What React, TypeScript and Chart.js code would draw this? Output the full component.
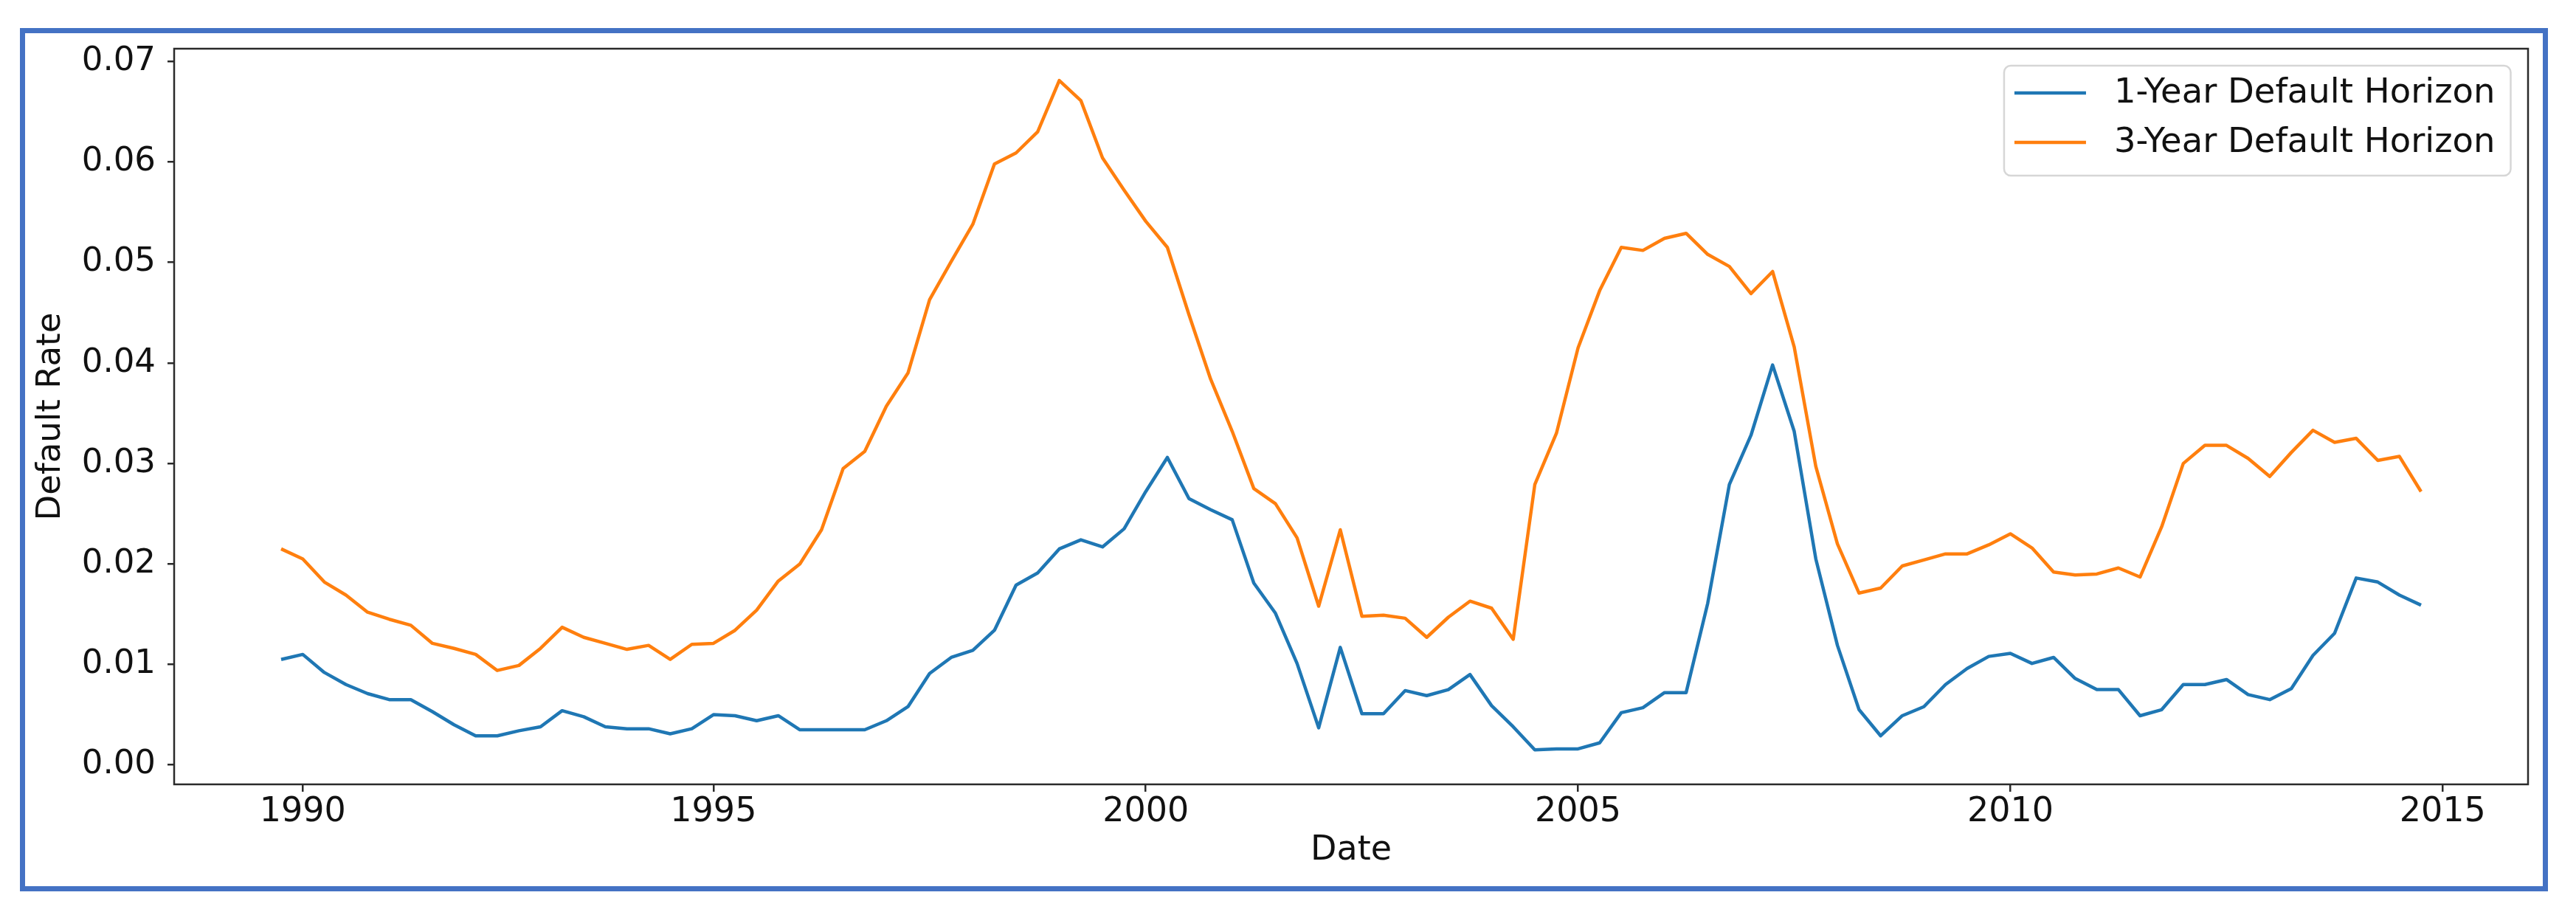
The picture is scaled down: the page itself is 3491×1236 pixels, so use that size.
import React, { useEffect, useRef } from 'react';
import { Chart, registerables } from 'chart.js';

Chart.register(...registerables);

// Quarterly observations, 1989Q4 .. 2014Q3 (x = quarter index)
const START_YEAR = 1989;
const START_QUARTER = 4;
const oneYearHorizon = [
  0.0105, 0.0110, 0.0092, 0.0080, 0.0071, 0.0065, 0.0065, 0.0053, 0.0040, 0.0029,
  0.0029, 0.0034, 0.0038, 0.0054, 0.0048, 0.0038, 0.0036, 0.0036, 0.0031, 0.0036,
  0.0050, 0.0049, 0.0044, 0.0049, 0.0035, 0.0035, 0.0035, 0.0035, 0.0044, 0.0058,
  0.0091, 0.0107, 0.0114, 0.0134, 0.0179, 0.0191, 0.0215, 0.0224, 0.0217, 0.0235,
  0.0272, 0.0306, 0.0265, 0.0254, 0.0244, 0.0181, 0.0151, 0.0101, 0.0037, 0.0117,
  0.0051, 0.0051, 0.0074, 0.0069, 0.0075, 0.0090, 0.0059, 0.0038, 0.0015, 0.0016,
  0.0016, 0.0022, 0.0052, 0.0057, 0.0072, 0.0072, 0.0161, 0.0279, 0.0328, 0.0398,
  0.0332, 0.0205, 0.0119, 0.0055, 0.0029, 0.0049, 0.0058, 0.0080, 0.0096, 0.0108,
  0.0111, 0.0101, 0.0107, 0.0086, 0.0075, 0.0075, 0.0049, 0.0055, 0.0080, 0.0080,
  0.0085, 0.0070, 0.0065, 0.0076, 0.0109, 0.0131, 0.0186, 0.0182, 0.0169, 0.0159,
];
const threeYearHorizon = [
  0.0215, 0.0205, 0.0182, 0.0169, 0.0152, 0.0145, 0.0139, 0.0121, 0.0116, 0.0110,
  0.0094, 0.0099, 0.0116, 0.0137, 0.0127, 0.0121, 0.0115, 0.0119, 0.0105, 0.0120,
  0.0121, 0.0134, 0.0154, 0.0183, 0.0200, 0.0234, 0.0295, 0.0312, 0.0357, 0.0390,
  0.0463, 0.0501, 0.0538, 0.0598, 0.0609, 0.0630, 0.0681, 0.0661, 0.0604, 0.0572,
  0.0541, 0.0515, 0.0448, 0.0384, 0.0332, 0.0275, 0.0260, 0.0226, 0.0158, 0.0234,
  0.0148, 0.0149, 0.0146, 0.0127, 0.0147, 0.0163, 0.0156, 0.0125, 0.0279, 0.0330,
  0.0415, 0.0472, 0.0515, 0.0512, 0.0524, 0.0529, 0.0508, 0.0496, 0.0469, 0.0491,
  0.0416, 0.0297, 0.0220, 0.0171, 0.0176, 0.0198, 0.0204, 0.0210, 0.0210, 0.0219,
  0.0230, 0.0216, 0.0192, 0.0189, 0.0190, 0.0196, 0.0187, 0.0237, 0.0300, 0.0318,
  0.0318, 0.0305, 0.0287, 0.0311, 0.0333, 0.0321, 0.0325, 0.0303, 0.0307, 0.0272,
];
const quarterLabels = oneYearHorizon.map((_, i) => {
  const q = START_QUARTER - 1 + i;
  return `${START_YEAR + Math.floor(q / 4)}Q${(q % 4) + 1}`;
});
const xTickIndex = [1, 20, 40, 60, 80, 100];
const xTickLabels = ['1990', '1995', '2000', '2005', '2010', '2015'];
const yTickValues = [0, 0.01, 0.02, 0.03, 0.04, 0.05, 0.06, 0.07];
const seriesNames = ['1-Year Default Horizon', '3-Year Default Horizon'];
const seriesColors = ['#1f77b4', '#ff7f0e'];

const FONT = "'DejaVu Sans', 'Liberation Sans', sans-serif";
const SPINE = '#2a2a2a';

const frameAndLegend = {
  id: 'frameAndLegend',
  afterDatasetsDraw(chart: any) {
    const { ctx, chartArea } = chart;
    const { left, right, top, bottom } = chartArea;
    ctx.save();
    ctx.strokeStyle = SPINE;
    ctx.lineWidth = 2.5;
    ctx.strokeRect(left, top, right - left, bottom - top);

    // legend (matplotlib style, upper right)
    const fontSize = 46.5;
    ctx.font = `${fontSize}px ${FONT}`;
    const labels = chart.data.datasets.map((d: any) => d.label);
    const textW = Math.max(...labels.map((t: string) => ctx.measureText(t).width));
    const padL = 14, handleLen = 97, gap = 38, padR = 21;
    const w = padL + handleLen + gap + textW + padR;
    const h = 149;
    const bx = right - 23.5 - w;
    const by = top + 23;
    const r = 9;
    ctx.beginPath();
    ctx.moveTo(bx + r, by);
    ctx.lineTo(bx + w - r, by);
    ctx.arcTo(bx + w, by, bx + w, by + r, r);
    ctx.lineTo(bx + w, by + h - r);
    ctx.arcTo(bx + w, by + h, bx + w - r, by + h, r);
    ctx.lineTo(bx + r, by + h);
    ctx.arcTo(bx, by + h, bx, by + h - r, r);
    ctx.lineTo(bx, by + r);
    ctx.arcTo(bx, by, bx + r, by, r);
    ctx.closePath();
    ctx.fillStyle = 'rgba(255,255,255,0.85)';
    ctx.fill();
    ctx.strokeStyle = '#d6d6d6';
    ctx.lineWidth = 2.5;
    ctx.stroke();

    chart.data.datasets.forEach((d: any, i: number) => {
      const cy = by + 37 + i * 67;
      ctx.strokeStyle = d.borderColor;
      ctx.lineWidth = 4.5;
      ctx.beginPath();
      ctx.moveTo(bx + padL, cy);
      ctx.lineTo(bx + padL + handleLen, cy);
      ctx.stroke();
      ctx.fillStyle = '#111';
      ctx.textAlign = 'left';
      ctx.textBaseline = 'middle';
      ctx.fillText(d.label, bx + padL + handleLen + gap, cy + 1);
    });
    ctx.restore();
  },
};

export default function App() {
  const canvasRef = useRef<HTMLCanvasElement | null>(null);

  useEffect(() => {
    if (!canvasRef.current) return;
    const series = [oneYearHorizon, threeYearHorizon];
    const chart = new Chart(canvasRef.current, {
      type: 'line',
      data: {
        labels: quarterLabels,
        datasets: series.map((vals, s) => ({
          label: seriesNames[s],
          data: vals.map((v, i) => ({ x: i, y: v })),
          borderColor: seriesColors[s],
          backgroundColor: seriesColors[s],
          borderWidth: 4.5,
          pointRadius: 0,
          tension: 0,
          fill: false,
          borderJoinStyle: 'round' as const,
        })),
      },
      options: {
        responsive: false,
        animation: false,
        devicePixelRatio: 1,
        layout: { padding: { left: 0, right: 65, top: 66, bottom: 0 } },
        plugins: {
          legend: { display: false },
          tooltip: { enabled: false },
        },
        scales: {
          x: {
            type: 'linear',
            min: -4.95,
            max: 103.95,
            afterFit: (scale: any) => {
              scale.height = 173;
            },
            afterBuildTicks: (scale: any) => {
              scale.ticks = xTickIndex.map((v) => ({ value: v }));
            },
            grid: {
              display: true,
              drawOnChartArea: false,
              drawTicks: true,
              tickLength: 10,
              color: SPINE,
              lineWidth: 2.5,
            },
            border: { display: false },
            ticks: {
              padding: 0,
              maxRotation: 0,
              autoSkip: false,
              color: '#111',
              font: { family: FONT, size: 46 },
              callback: (v: any) => {
                const k = xTickIndex.indexOf(Number(v));
                return k >= 0 ? xTickLabels[k] : '';
              },
            },
            title: {
              display: true,
              text: 'Date',
              color: '#111',
              font: { family: FONT, size: 46 },
              padding: { top: 0, bottom: 55 },
            },
          },
          y: {
            type: 'linear',
            min: -0.00193,
            max: 0.07127,
            afterFit: (scale: any) => {
              scale.width = 236;
            },
            afterBuildTicks: (scale: any) => {
              scale.ticks = yTickValues.map((v) => ({ value: v }));
            },
            grid: {
              display: true,
              drawOnChartArea: false,
              drawTicks: true,
              tickLength: 9,
              color: SPINE,
              lineWidth: 2.5,
            },
            border: { display: false },
            ticks: {
              padding: 16,
              color: '#111',
              font: { family: FONT, size: 45 },
              callback: (v: any) => Number(v).toFixed(2),
            },
            title: {
              display: true,
              text: 'Default Rate',
              color: '#111',
              font: { family: FONT, size: 45 },
              padding: { top: 42, bottom: 0 },
            },
          },
        },
      },
      plugins: [frameAndLegend],
    });
    return () => chart.destroy();
  }, []);

  return (
    <div
      style={{
        position: 'absolute',
        left: 0,
        top: 0,
        width: 3491,
        height: 1236,
        background: '#ffffff',
        overflow: 'hidden',
      }}
    >
      <div
        style={{
          position: 'absolute',
          left: 27,
          top: 38,
          width: 3426,
          height: 1170,
          boxSizing: 'border-box',
          border: '7px solid #4472C4',
        }}
      />
      <canvas
        ref={canvasRef}
        width={3491}
        height={1236}
        style={{ position: 'absolute', left: 0, top: 0, width: 3491, height: 1236 }}
      />
    </div>
  );
}
